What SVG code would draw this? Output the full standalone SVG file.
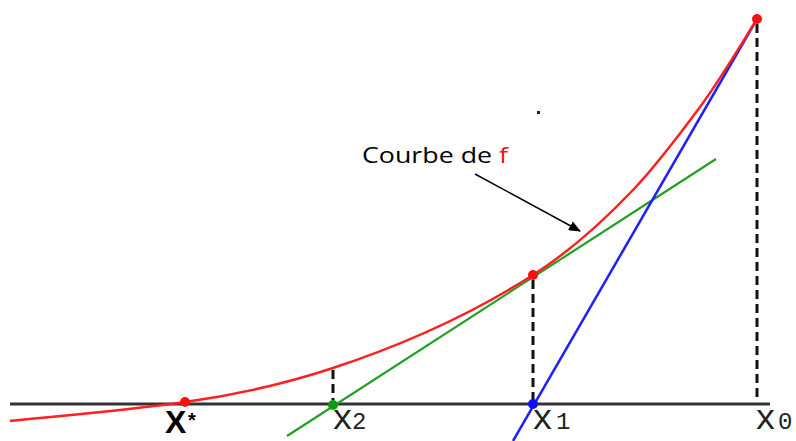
<svg xmlns="http://www.w3.org/2000/svg" width="796" height="441" viewBox="0 0 796 441">
<defs>
<style>
.axis{stroke:#333;stroke-width:3;fill:none}
.dash{stroke:#111;stroke-width:3;stroke-dasharray:9 5;fill:none}
.curve{stroke:#ff2020;stroke-width:2.5;fill:none}
.tan1{stroke:#2020ff;stroke-width:2.5;fill:none}
.tan2{stroke:#22a022;stroke-width:2.2;fill:none}
.lbl{font-family:"Liberation Mono",monospace;fill:#222}
.cap{font-family:"Open Sans","Liberation Sans",sans-serif;font-size:22px;fill:#000}
</style>
<marker id="ah" viewBox="0 0 12 10" refX="11" refY="5" markerWidth="12" markerHeight="10" markerUnits="userSpaceOnUse" orient="auto">
<path d="M0,0 L12,5 L0,10 z" fill="#000"/>
</marker>
</defs>
<rect width="796" height="441" fill="#fff"/>
<g id="axis">
<line class="axis" x1="10" y1="404" x2="770" y2="404"/>
</g>
<g id="connectors">
<line class="dash" x1="757" y1="24" x2="757" y2="400"/>
<line class="dash" x1="533" y1="280" x2="533" y2="400"/>
<line class="dash" x1="333" y1="370" x2="333" y2="400"/>
<line class="tan2" x1="287" y1="436" x2="716" y2="159"/>
<line class="tan1" x1="513" y1="441" x2="757" y2="19"/>
<line x1="475" y1="174" x2="580" y2="231" stroke="#000" stroke-width="1.5" marker-end="url(#ah)"/>
</g>
<g id="curve">
<path class="curve" d="M10,421 C68.3,415.2 126.7,410.2 185,402 C234.3,395.1 283.7,384.3 333,368 C399.7,346 466.3,317.7 533,275 C566.3,253.7 599.7,225 633,190 C655.3,166.6 677.7,137.1 700,107 C719,81.4 738,49.4 757,19"/>
</g>
<g id="points">
<circle cx="185" cy="402" r="5" fill="#ff1010"/>
<circle cx="533" cy="275" r="5" fill="#ff1010"/>
<circle cx="757" cy="19" r="5" fill="#ff1010"/>
<circle cx="533" cy="404" r="5" fill="#1010ff"/>
<circle cx="333" cy="405" r="5" fill="#119911"/>
</g>
<g id="label-xstar">
<text x="165" y="433" font-family="'Liberation Sans',sans-serif" font-weight="bold" font-size="32" fill="#000">X</text>
<text x="188" y="427" font-family="'Liberation Sans',sans-serif" font-weight="bold" font-size="20" fill="#000">*</text>
</g>
<g id="label-x2">
<text class="lbl" x="332" y="429" font-size="35">x</text>
<text class="lbl" x="352" y="429" font-size="24">2</text>
</g>
<g id="label-x1">
<text class="lbl" x="532" y="429" font-size="35">x</text>
<text class="lbl" x="556" y="429" font-size="24">1</text>
</g>
<g id="label-x0">
<text class="lbl" x="755" y="429" font-size="35">x</text>
<text class="lbl" x="778" y="429" font-size="24">0</text>
</g>
<g id="label-courbe">
<text class="cap" x="362" y="163" textLength="146" lengthAdjust="spacingAndGlyphs">Courbe de <tspan fill="#ff1010">f</tspan></text>
</g>
<rect x="537" y="111" width="3" height="3" fill="#222"/>
</svg>
